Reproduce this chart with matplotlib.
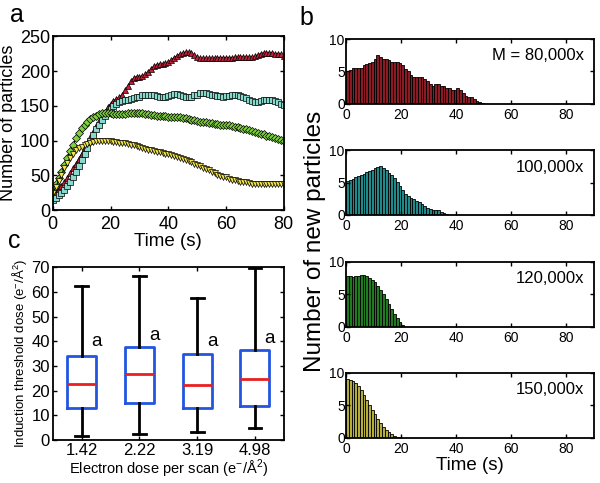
import numpy as np
import matplotlib
matplotlib.use('Agg')
import matplotlib.pyplot as plt

plt.rcParams['font.family'] = ['Liberation Sans', 'DejaVu Sans']
plt.rcParams['xtick.direction'] = 'in'
plt.rcParams['ytick.direction'] = 'in'

# ---- panel a: particle counts vs time (one point per second) ----
time_a = list(range(81))
count_80k = [20, 25, 30, 35, 40, 46, 53, 60, 67, 74, 81, 89, 97, 105, 113, 121, 128, 135, 141, 148,
             153, 157, 160, 162, 166, 172, 178, 185, 190, 192, 192, 193, 195, 199, 203, 207, 209, 210, 210, 211,
             213, 216, 219, 222, 224, 226, 227, 227, 226, 223, 220, 218, 218, 218, 218, 218, 218, 218, 219, 219,
             219, 219, 219, 220, 220, 220, 220, 220, 220, 220, 221, 223, 225, 226, 226, 226, 226, 225, 225, 224, 222]
count_100k = [15, 18, 21, 25, 29, 34, 40, 47, 55, 63, 72, 81, 90, 99, 108, 116, 123, 130, 136, 141,
              146, 150, 153, 155, 157, 158, 159, 160, 161, 162, 163, 165, 166, 166, 166, 165, 164, 163, 163, 163,
              164, 166, 167, 167, 166, 164, 163, 162, 163, 165, 166, 168, 168, 168, 167, 166, 165, 164, 164, 163,
              164, 164, 165, 165, 165, 164, 163, 161, 159, 157, 156, 156, 157, 158, 158, 158, 158, 157, 155, 153, 151]
count_120k = [30, 38, 46, 55, 65, 75, 85, 94, 103, 111, 118, 123, 127, 131, 134, 136, 138, 139, 139, 139,
              139, 138, 138, 138, 138, 138, 139, 139, 140, 140, 139, 139, 138, 138, 137, 137, 136, 136, 135, 135,
              134, 134, 134, 134, 134, 133, 132, 131, 130, 129, 128, 127, 126, 126, 125, 125, 124, 124, 123, 123,
              122, 122, 121, 120, 119, 118, 117, 116, 115, 114, 113, 111, 110, 109, 107, 106, 105, 104, 102, 101, 100]
count_150k = [25, 33, 42, 51, 60, 68, 75, 81, 86, 89, 91, 93, 95, 97, 98, 99, 100, 100, 99, 99,
              99, 98, 98, 97, 97, 96, 95, 94, 93, 92, 91, 89, 88, 87, 86, 85, 84, 83, 82, 81,
              80, 79, 78, 76, 75, 74, 72, 71, 69, 67, 65, 63, 61, 59, 57, 55, 53, 51, 49, 48,
              47, 45, 44, 43, 42, 41, 40, 40, 39, 38, 38, 37, 37, 37, 37, 37, 37, 37, 37, 37, 37]

# ---- panel b: new particles per 1 s bin ----
new_80k = [5.0, 5.2, 5.5, 5.5, 5.5, 5.6, 6.0, 6.1, 6.3, 6.5, 7.0, 7.6, 7.3, 7.0, 6.9, 6.8, 6.5, 6.5, 6.5, 6.3,
           6.0, 5.4, 5.0, 4.5, 4.2, 4.2, 4.2, 4.1, 3.9, 3.5, 3.0, 2.7, 3.1, 3.0, 2.8, 2.7, 2.5, 2.4, 2.2, 2.1,
           2.4, 2.2, 1.6, 1.2, 1.1, 1.0, 0.8, 0.5, 0.25, 0.1]
new_100k = [5.3, 5.4, 5.6, 5.8, 6.0, 6.2, 6.4, 6.6, 6.8, 7.0, 7.2, 7.4, 7.6, 7.3, 6.9, 6.5, 6.2, 5.7, 5.1, 4.5,
            3.8, 3.3, 2.9, 2.6, 2.4, 2.2, 2.0, 1.7, 1.4, 1.1, 0.9, 0.8, 0.8, 0.7, 0.5, 0.3, 0.1]
new_120k = [7.8, 7.8, 7.7, 7.8, 7.8, 7.9, 8.0, 7.8, 7.5, 7.2, 6.8, 6.3, 5.7, 5.0, 4.3, 3.5, 2.7, 2.0, 1.3, 0.7, 0.3]
new_150k = [9.0, 8.9, 8.7, 8.5, 8.0, 7.4, 6.6, 5.8, 5.0, 4.3, 3.6, 2.9, 2.3, 1.7, 1.2, 0.8, 0.5, 0.3, 0.15, 0.05]
mag_labels = ['M = 80,000x', '100,000x', '120,000x', '150,000x']

# ---- panel c: box plot stats ----
dose_labels = ['1.42', '2.22', '3.19', '4.98']
whislo = [1.5, 2.3, 3.2, 5.0]
q1 = [13.0, 15.0, 12.8, 13.8]
med = [22.7, 26.6, 22.3, 24.9]
q3 = [34.0, 37.7, 35.0, 36.3]
whishi = [62.2, 66.5, 57.3, 69.8]
letter_y = [40, 42.5, 40, 41]

fig = plt.figure(figsize=(6, 4.83), dpi=100)

def style(ax):
    for s in ax.spines.values():
        s.set_linewidth(1.3)
    ax.tick_params(top=True, right=True, width=1, length=3)

# panel a
ax_a = fig.add_axes([0.088, 0.565, 0.385, 0.36])
series = [(count_80k, '^', '#c0203a'), (count_100k, 's', '#88d8cc'),
          (count_120k, 'D', '#80d040'), (count_150k, 'v', '#f0e448')]
for vals, mk, col in series:
    ms = 5 if mk != 'D' else 4.2
    ax_a.plot(time_a, vals, color='k', lw=0.8, marker=mk, ms=ms,
              mfc=col, mec='k', mew=0.5)
ax_a.set_xlim(0, 80)
ax_a.set_ylim(0, 250)
ax_a.set_xticks(range(0, 81, 20))
ax_a.set_yticks(range(0, 251, 50))
ax_a.tick_params(labelsize=13)
ax_a.tick_params(axis='x', pad=4)
ax_a.tick_params(axis='y', pad=2)
ax_a.set_xlabel('Time (s)', fontsize=13.5, labelpad=0)
ax_a.set_ylabel('Number of particles', fontsize=13, labelpad=2)
style(ax_a)

# panel b
b_tops = [0.919, 0.689, 0.458, 0.228]
b_data = [new_80k, new_100k, new_120k, new_150k]
b_cols = ['#8a1a24', '#208a8a', '#207a20', '#b4ac3c']
for i in range(4):
    ax = fig.add_axes([0.577, b_tops[i] - 0.134, 0.413, 0.134])
    vals = b_data[i]
    ax.bar(np.arange(len(vals)), vals, width=1, align='edge',
           color=b_cols[i], edgecolor='k', linewidth=0.6)
    ax.set_xlim(0, 90)
    ax.set_ylim(0, 10)
    ax.set_xticks(range(0, 81, 20))
    ax.set_yticks([0, 5, 10])
    ax.tick_params(labelsize=10)
    ax.tick_params(axis='x', pad=3)
    ax.tick_params(axis='y', pad=1)
    ax.text(0.96, 0.74, mag_labels[i], transform=ax.transAxes,
            ha='right', va='center', fontsize=12)
    style(ax)
    if i == 3:
        ax.set_xlabel('Time (s)', fontsize=13.5, labelpad=1)

fig.text(0.525, 0.5, 'Number of new particles', rotation=90,
         ha='center', va='center', fontsize=17.5)

# panel c
ax_c = fig.add_axes([0.088, 0.089, 0.385, 0.358])
stats = []
for i in range(4):
    stats.append({'whislo': whislo[i], 'q1': q1[i], 'med': med[i],
                  'q3': q3[i], 'whishi': whishi[i], 'fliers': []})
ax_c.bxp(stats, positions=[1, 2, 3, 4], widths=0.5, showfliers=False,
         boxprops=dict(color='#2255e0', lw=2),
         medianprops=dict(color='#e82020', lw=2),
         whiskerprops=dict(color='k', lw=2),
         capprops=dict(color='k', lw=2), capwidths=0.22)
for i in range(4):
    ax_c.text(i + 1.17, letter_y[i], 'a', fontsize=13.5, ha='left', va='center')
ax_c.set_xlim(0.5, 4.5)
ax_c.set_ylim(0, 70)
ax_c.set_yticks(range(0, 71, 10))
ax_c.set_xticks([1, 2, 3, 4])
ax_c.set_xticklabels(dose_labels)
ax_c.tick_params(labelsize=12, pad=2)
ax_c.set_xlabel(r'Electron dose per scan (e$^{\mathregular{-}}$/Å$^{\mathregular{2}}$)',
                fontsize=10.5, labelpad=0)
ax_c.set_ylabel(r'Induction threshold dose (e$^{\mathregular{-}}$/Å$^{\mathregular{2}}$)',
                fontsize=9.5, labelpad=2)
style(ax_c)

fig.text(0.028, 0.968, 'a', fontsize=18, ha='center', va='center')
fig.text(0.51, 0.963, 'b', fontsize=18, ha='center', va='center')
fig.text(0.024, 0.5, 'c', fontsize=18, ha='center', va='center')

fig.savefig('out.png', dpi=100)
